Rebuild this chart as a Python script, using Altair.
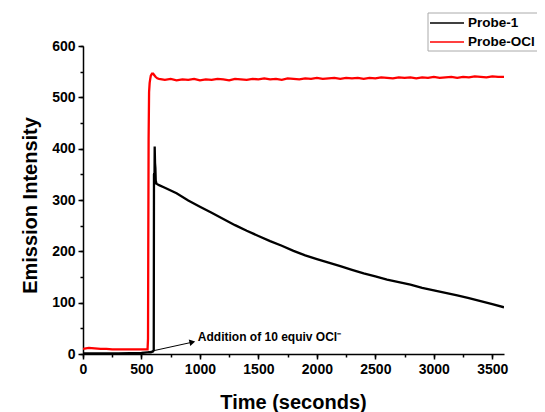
import altair as alt
import pandas as pd

# ---- data ----
red_t = [0, 25, 50, 100, 150, 200, 250, 300, 350, 400, 450, 500, 540, 552, 556, 558, 561, 565, 570,
         575, 580, 590, 600, 610, 620, 635, 650,
         700, 750, 800, 850, 900, 950, 1000, 1050, 1100, 1150, 1200, 1250, 1300, 1350, 1400, 1450,
         1500, 1550, 1600, 1650, 1700, 1750, 1800, 1850, 1900, 1950, 2000, 2050, 2100, 2150, 2200,
         2250, 2300, 2350, 2400, 2450, 2500, 2550, 2600, 2650, 2700, 2750, 2800, 2850, 2900, 2950,
         3000, 3050, 3100, 3150, 3200, 3250, 3300, 3350, 3400, 3450, 3500, 3550, 3600]
red_v = [10, 11, 12, 11, 10, 10, 9, 9, 9, 9, 9, 9, 9, 9, 30, 200, 420, 510, 528,
         536, 542, 546, 546, 543, 540, 537, 536,
         534, 536, 533, 535, 534, 536, 533, 535, 534, 536, 535, 533, 536, 535, 534, 536,
         535, 537, 535, 536, 534, 537, 536, 535, 537, 536, 538, 536, 537, 538, 536,
         538, 537, 538, 536, 538, 537, 539, 538, 537, 539, 538, 539, 537, 539, 538,
         540, 538, 539, 540, 538, 540, 539, 541, 540, 539, 541, 540, 540]

black_t = [0, 100, 200, 300, 400, 500, 550, 580, 600, 605, 607, 609, 611, 613, 616, 619, 622, 628,
           640, 650, 700, 800, 900, 1000, 1100, 1200, 1300, 1400, 1500, 1600, 1700, 1800, 1900,
           2000, 2100, 2200, 2300, 2400, 2500, 2600, 2700, 2800, 2900, 3000, 3100, 3200, 3300,
           3400, 3500, 3600]
black_v = [1, 1, 1, 1, 1.5, 2, 3, 3, 5, 8, 350, 352, 330, 404, 372, 362, 338, 332,
           330, 329, 324, 313, 299, 287, 275, 263, 251, 240, 230, 220, 211, 201, 192,
           185, 178, 171, 164, 157, 151, 145, 140, 135, 129, 124, 119, 114, 109,
           103, 97, 91]

series_names = ["Probe-1", "Probe-OCl"]
series_colors = ["#000000", "#ff0000"]

arrow_x = [555, 935]
arrow_y = [4, 23]
note_x = [982]
note_y = [33]
note_text = ["Addition of 10 equiv OCl\u207b"]

x_major = [0, 500, 1000, 1500, 2000, 2500, 3000, 3500]
x_minor = list(range(0, 3601, 250))
y_major = [0, 100, 200, 300, 400, 500, 600]
y_minor = list(range(0, 601, 50))

FONT = "Liberation Sans"

df = pd.concat([
    pd.DataFrame({"t": black_t, "v": black_v, "s": series_names[0], "o": 0}),
    pd.DataFrame({"t": red_t, "v": red_v, "s": series_names[1], "o": 1}),
])
arrow_df = pd.DataFrame({"x": [arrow_x[0]], "y": [arrow_y[0]], "x2": [arrow_x[1]], "y2": [arrow_y[1]]})
head_df = pd.DataFrame({"x": [arrow_x[1]], "y": [arrow_y[1]]})
note_df = pd.DataFrame({"x": note_x, "y": note_y, "text": note_text})
one = pd.DataFrame({"k": [0]})

xscale = alt.Scale(domain=[0, 3600], nice=False, zero=False)
yscale = alt.Scale(domain=[0, 600], nice=False)

lines = alt.Chart(df).mark_line(strokeWidth=2.3, clip=True).encode(
    x=alt.X("t:Q", scale=xscale, axis=alt.Axis(
        values=x_major, format="d", title="Time (seconds)", tickSize=5, labelFlush=False,
        orient="bottom", titleX=210, titleY=48, titleBaseline="middle", titleFontSize=20)),
    y=alt.Y("v:Q", scale=yscale, axis=alt.Axis(
        values=y_major, format="d", title="Emission Intensity", tickSize=5, orient="left",
        titleX=-53, titleY=159, titleBaseline="middle", titleFontSize=20, titleAngle=270)),
    color=alt.Color("s:N", scale=alt.Scale(domain=series_names, range=series_colors), legend=None),
    order="o:Q",
    detail="s:N",
)

arrow = alt.Chart(arrow_df).mark_rule(color="black", strokeWidth=1).encode(
    x=alt.X("x:Q", scale=xscale, axis=alt.Axis(values=x_minor, labels=False, domain=False,
                                                tickSize=3, title=None, orient="bottom")),
    y=alt.Y("y:Q", scale=yscale, axis=alt.Axis(values=y_minor, labels=False, domain=False,
                                                tickSize=3, title=None, orient="left")),
    x2="x2:Q", y2="y2:Q",
)

head = alt.Chart(head_df).mark_point(shape="triangle-right", filled=True, color="black",
                                     size=45, angle=347, opacity=1).encode(
    x=alt.X("x:Q", scale=xscale, axis=None), y=alt.Y("y:Q", scale=yscale, axis=None))

note = alt.Chart(note_df).mark_text(align="left", baseline="middle", font=FONT,
                                    fontWeight="bold", fontSize=12, color="black").encode(
    x=alt.X("x:Q", scale=xscale, axis=None), y=alt.Y("y:Q", scale=yscale, axis=None),
    text="text:N")

# manual legend (box, two line samples, two labels)
leg_box = alt.Chart(one).mark_rect(fill="white", stroke="#aaaaaa", strokeWidth=1).encode(
    x=alt.value(345), x2=alt.value(480), y=alt.value(-33), y2=alt.value(5))
leg_items = []
for i, (name, col) in enumerate(zip(series_names, series_colors)):
    yy = -23 + 19 * i
    leg_items.append(alt.Chart(one).mark_rule(color=col, strokeWidth=1.6).encode(
        x=alt.value(347), x2=alt.value(381), y=alt.value(yy)))
    leg_items.append(alt.Chart(one).mark_text(align="left", baseline="middle", font=FONT,
                                              fontWeight="bold", fontSize=13.5, color="black").encode(
        x=alt.value(385), y=alt.value(yy), text=alt.value(name)))

chart = alt.layer(lines, arrow, head, note, leg_box, *leg_items).resolve_axis(
    x="independent", y="independent"
).properties(
    width=421, height=308,
    autosize=alt.AutoSizeParams(type="none"),
    padding={"left": 75, "top": 38, "right": 33, "bottom": 58},
    background="white",
).configure_view(stroke=None).configure_axis(
    domainColor="black", domainWidth=1.5, tickColor="black", tickWidth=1.5,
    labelFont=FONT, labelFontWeight="bold", labelFontSize=14, labelColor="black",
    titleFont=FONT, titleFontWeight="bold", titleColor="black", grid=False,
    labelPadding=3,
)

chart.save("out.html", embed_options={"renderer": "svg", "actions": False})
